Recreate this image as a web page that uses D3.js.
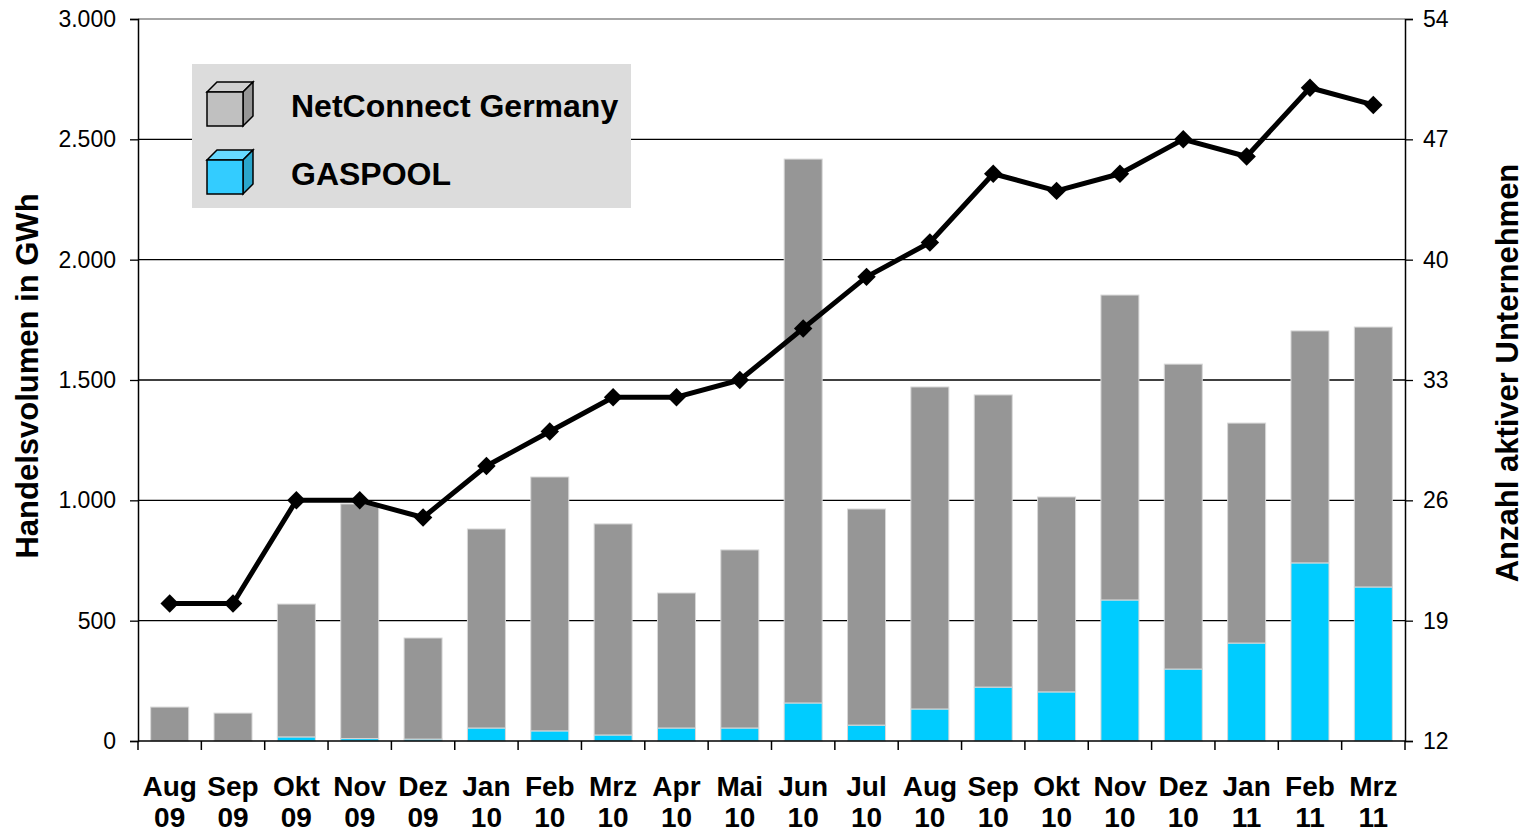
<!DOCTYPE html>
<html lang="de">
<head>
<meta charset="UTF-8">
<title>Handelsvolumen NCG / GASPOOL</title>
<script src="https://d3js.org/d3.v7.min.js"></script>
<style>
  body { margin: 0; background: #fff; }
  svg { font-family: "Liberation Sans", Arial, sans-serif; }
  .tick text { font-size: 23px; fill: #000; }
  .axis-title { font-size: 31px; font-weight: bold; }
  .xlab { font-size: 28px; font-weight: bold; }
  .legend-text { font-size: 32px; font-weight: bold; }
</style>
</head>
<body>
<script>
// Monate (zweizeilig)
const months = ["Aug", "Sep", "Okt", "Nov", "Dez", "Jan", "Feb", "Mrz", "Apr", "Mai",
                "Jun", "Jul", "Aug", "Sep", "Okt", "Nov", "Dez", "Jan", "Feb", "Mrz"];
const years  = ["09", "09", "09", "09", "09", "10", "10", "10", "10", "10",
                "10", "10", "10", "10", "10", "10", "10", "11", "11", "11"];

// Handelsvolumen in GWh
const gaspool = [0, 0, 17, 10, 8, 54, 42, 25, 54, 54, 158, 66, 133, 224, 204, 586, 299, 407, 740, 640];
const ncg     = [141, 116, 552, 975, 420, 827, 1055, 877, 561, 740, 2260, 898, 1338, 1214, 810, 1267, 1267, 914, 964, 1080];

// Anzahl aktiver Unternehmen
const firms = [20, 20, 26, 26, 25, 28, 30, 32, 32, 33, 36, 39, 41, 45, 44, 45, 47, 46, 50, 49];

const leftTicks  = [0, 500, 1000, 1500, 2000, 2500, 3000];
const rightTicks = [12, 19, 26, 33, 40, 47, 54];

const width = 1530, height = 832;
const margin = { top: 19, right: 125, bottom: 91, left: 138 };

const svg = d3.select("body").append("svg")
    .attr("width", width)
    .attr("height", height);

const cats = months.map((m, i) => i);

const x = d3.scaleBand()
    .domain(cats)
    .range([margin.left, width - margin.right])
    .paddingInner(0.4)
    .paddingOuter(0.2);

const y = d3.scaleLinear()
    .domain([0, 3000])
    .range([height - margin.bottom, margin.top]);

const y2 = d3.scaleLinear()
    .domain([12, 54])
    .range([height - margin.bottom, margin.top]);

// Gitterlinien
svg.append("g")
    .selectAll("line")
    .data(leftTicks.slice(1))
    .join("line")
    .attr("x1", margin.left)
    .attr("x2", width - margin.right)
    .attr("y1", d => y(d))
    .attr("y2", d => y(d))
    .attr("stroke", d => d === 3000 ? "#888" : "#000")
    .attr("stroke-width", 1.3);

// gestapelte Balken
const stack = d3.stack().keys(["gaspool", "ncg"])(
    cats.map(i => ({ gaspool: gaspool[i], ncg: ncg[i] }))
);
const colors = { gaspool: "#00ccff", ncg: "#969696" };

svg.append("g")
    .selectAll("g")
    .data(stack)
    .join("g")
    .attr("fill", d => colors[d.key])
    .selectAll("rect")
    .data(d => d.map((v, i) => ({ v, i })))
    .join("rect")
    .attr("x", d => x(d.i))
    .attr("width", x.bandwidth())
    .attr("y", d => y(d.v[1]))
    .attr("height", d => y(d.v[0]) - y(d.v[1]))
    .attr("stroke", "#d8d8d8")
    .attr("stroke-width", 1);

// Achsen
const axisLeft = svg.append("g")
    .attr("transform", `translate(${margin.left},0)`)
    .call(d3.axisLeft(y).tickValues(leftTicks)
        .tickFormat(d => d3.format(",")(d).replace(",", "."))
        .tickSize(8).tickPadding(14));

const axisRight = svg.append("g")
    .attr("transform", `translate(${width - margin.right},0)`)
    .call(d3.axisRight(y2).tickValues(rightTicks).tickSize(8).tickPadding(10));

[axisLeft, axisRight].forEach(a => {
    a.select(".domain").attr("stroke", "#000").attr("stroke-width", 1.5);
    a.selectAll(".tick line").attr("stroke", "#000").attr("stroke-width", 1.3);
});

// x-Achse mit Teilstrichen zwischen den Kategorien
const step = x.step();
const xb = svg.append("g");
xb.append("line")
    .attr("x1", margin.left).attr("x2", width - margin.right)
    .attr("y1", y(0)).attr("y2", y(0))
    .attr("stroke", "#000").attr("stroke-width", 1.5);
xb.selectAll(".xt")
    .data(d3.range(cats.length + 1))
    .join("line")
    .attr("x1", i => margin.left + i * step)
    .attr("x2", i => margin.left + i * step)
    .attr("y1", y(0))
    .attr("y2", y(0) + 9)
    .attr("stroke", "#000").attr("stroke-width", 1.5);

const xl = xb.selectAll(".xlab")
    .data(cats)
    .join("text")
    .attr("class", "xlab")
    .attr("text-anchor", "middle")
    .attr("x", i => x(i) + x.bandwidth() / 2);
xl.append("tspan").attr("x", i => x(i) + x.bandwidth() / 2).attr("y", 796).text(i => months[i]);
xl.append("tspan").attr("x", i => x(i) + x.bandwidth() / 2).attr("y", 827).text(i => years[i]);

// Linie: aktive Unternehmen
const line = d3.line()
    .x((d, i) => x(i) + x.bandwidth() / 2)
    .y(d => y2(d));

svg.append("path")
    .datum(firms)
    .attr("fill", "none")
    .attr("stroke", "#000")
    .attr("stroke-width", 5)
    .attr("stroke-linejoin", "round")
    .attr("d", line);

svg.append("g")
    .selectAll("path")
    .data(firms)
    .join("path")
    .attr("d", d3.symbol(d3.symbolSquare, 170))
    .attr("transform", (d, i) => `translate(${x(i) + x.bandwidth() / 2},${y2(d)}) rotate(45)`)
    .attr("fill", "#000");

// Achsentitel
svg.append("text")
    .attr("class", "axis-title")
    .attr("transform", "translate(38,376) rotate(-90)")
    .attr("text-anchor", "middle")
    .text("Handelsvolumen in GWh");

svg.append("text")
    .attr("class", "axis-title")
    .attr("transform", "translate(1518,373) rotate(-90)")
    .attr("text-anchor", "middle")
    .text("Anzahl aktiver Unternehmen");

// Legende
const legend = svg.append("g").attr("transform", "translate(192,64)");
legend.append("rect")
    .attr("width", 439).attr("height", 144)
    .attr("fill", "#dcdcdc");

const legendItems = [
    { label: "NetConnect Germany", front: "#c0c0c0", top: "#d0d0d0", side: "#969696" },
    { label: "GASPOOL", front: "#33ccff", top: "#66d9ff", side: "#2aa6cc" }
];

const li = legend.selectAll(".li")
    .data(legendItems)
    .join("g")
    .attr("transform", (d, i) => `translate(15,${16 + i * 68})`);

// kleiner Würfel
li.append("path")
    .attr("d", "M0,12 L10,2 L46,2 L36,12 Z")
    .attr("fill", d => d.top).attr("stroke", "#000").attr("stroke-width", 1.5);
li.append("path")
    .attr("d", "M36,12 L46,2 L46,36 L36,46 Z")
    .attr("fill", d => d.side).attr("stroke", "#000").attr("stroke-width", 1.5);
li.append("rect")
    .attr("x", 0).attr("y", 12).attr("width", 36).attr("height", 34)
    .attr("fill", d => d.front).attr("stroke", "#000").attr("stroke-width", 1.5);

li.append("text")
    .attr("class", "legend-text")
    .attr("x", 84).attr("y", 37)
    .text(d => d.label);
</script>
</body>
</html>
